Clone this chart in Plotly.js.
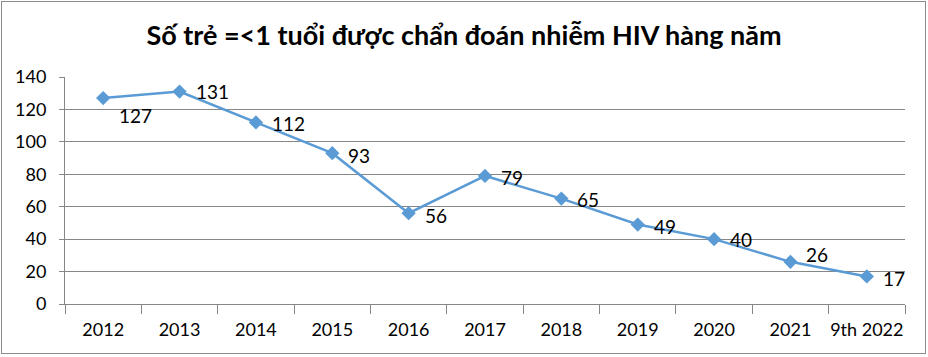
<!DOCTYPE html>
<html><head><meta charset="utf-8">
<script src="https://cdn.plot.ly/plotly-3.0.1.min.js"></script>
<style>
html,body{margin:0;padding:0;background:#fff;}
#wrap{position:relative;width:928px;height:357px;}
#chart{width:928px;height:357px;}
#border{position:absolute;left:1px;top:1px;width:923px;height:351px;border:1px solid #8c8c8c;pointer-events:none;}
</style></head>
<body>
<div id="wrap"><div id="chart"></div><div id="border"></div></div>
<script>
const years = ["2012","2013","2014","2015","2016","2017","2018","2019","2020","2021","9th 2022"];
const cases = [127,131,112,93,56,79,65,49,40,26,17];
// label vertical nudges (px, positive = up)
const labelShift = [-17,0,-1,-2,-2,-2,-1,-2,0,7,-2];

const font = "Lato, 'Open Sans', sans-serif";
const annotations = years.map((y,i)=>({
  x: i, y: cases[i], xref:'x', yref:'y', text: String(cases[i]), showarrow:false,
  xanchor:'left', yanchor:'middle', xshift:14, yshift:labelShift[i],
  font:{family:font,size:19,color:'#000'}
}));

const trace = {
  x: years, y: cases, type:'scatter', mode:'lines+markers',
  line:{color:'#5B9BD5',width:2.5},
  marker:{symbol:'diamond',size:11,color:'#5B9BD5'},
  hoverinfo:'x+y'
};
const layout = {
  width:928, height:357,
  margin:{l:65,r:23,t:77,b:53},
  paper_bgcolor:'#fff', plot_bgcolor:'#fff',
  showlegend:false,
  title:{text:'<b>Số trẻ =<1 tuổi được chẩn đoán nhiễm HIV hàng năm</b>',
    x:0.5, xanchor:'center', y:0.9, yanchor:'middle',
    font:{family:font,size:27,color:'#000'}},
  xaxis:{type:'category', categoryorder:'array', categoryarray:years,
    range:[-0.5, years.length-0.5], autorange:false,
    tickson:'boundaries', ticks:'outside', ticklen:9, tickangle:0, ticklabelstandoff:9,
    tickcolor:'#868686', showline:true, linecolor:'#868686', linewidth:1,
    showgrid:false, tickfont:{family:font,size:18,color:'#000'}, fixedrange:true},
  yaxis:{range:[0,140], autorange:false, dtick:20, ticks:'outside', ticklen:5, tickcolor:'#868686',
    ticklabelstandoff:9,
    showline:true, linecolor:'#868686', gridcolor:'#868686', gridwidth:1,
    zeroline:false, tickfont:{family:font,size:18,color:'#000'}, fixedrange:true},
  annotations: annotations
};
Plotly.newPlot('chart',[trace],layout,{displayModeBar:false,staticPlot:true});
</script>
</body></html>
